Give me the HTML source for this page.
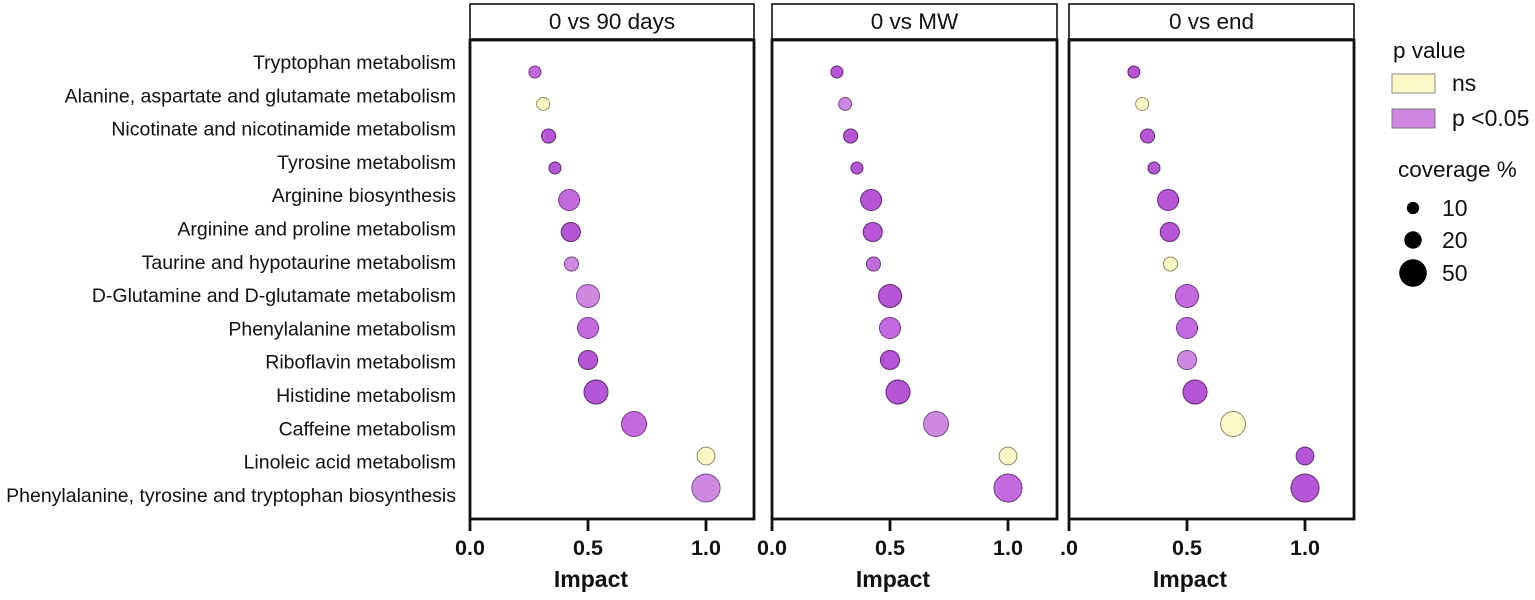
<!DOCTYPE html>
<html><head><meta charset="utf-8"><style>
body{margin:0;background:#fff;}
svg{display:block;font-family:"Liberation Sans",Arial,sans-serif;}
</style></head><body>
<svg id="chart" width="1535" height="600" viewBox="0 0 1535 600"></svg>
<script>
const pathways=["Tryptophan metabolism","Alanine, aspartate and glutamate metabolism","Nicotinate and nicotinamide metabolism","Tyrosine metabolism","Arginine biosynthesis","Arginine and proline metabolism","Taurine and hypotaurine metabolism","D-Glutamine and D-glutamate metabolism","Phenylalanine metabolism","Riboflavin metabolism","Histidine metabolism","Caffeine metabolism","Linoleic acid metabolism","Phenylalanine, tyrosine and tryptophan biosynthesis"];
const impact=[0.275,0.31,0.333,0.36,0.42,0.427,0.43,0.5,0.5,0.5,0.534,0.695,1.0,1.0];
const coverage=[9.5,11,13,9.5,29,24,13,35,29,24,38,41,21,52];
const panelTitles=["0 vs 90 days","0 vs MW","0 vs end"];
// significance class per panel: 0 = ns, 1 = light, 2 = mid, 3 = dark
const sig90=[2,0,3,3,2,3,1,1,2,3,3,2,0,1];
const sigMW=[3,1,3,3,3,3,2,3,2,3,3,1,0,2];
const sigEnd=[3,0,3,3,3,3,0,2,2,1,3,0,3,3];
const xTicks=[0,0.5,1.0];
const xTickLabels=["0.0","0.5","1.0"];
const legendSizes=[10,20,50];

const NS="http://www.w3.org/2000/svg";
const svg=document.getElementById('chart');
function mk(tag,attrs,parent){const e=document.createElementNS(NS,tag);for(const k in attrs)e.setAttribute(k,attrs[k]);(parent||svg).appendChild(e);return e;}
const fills=["#fdf9c6","#cf88e2","#c26ade","#b656d6"];
const strokes=["#8a8a6a","#7a4a88","#6e3a80","#5e2a70"];
const panels=[{x0:470,x1:754,sig:sig90,first:"0.0"},{x0:772,x1:1057,sig:sigMW,first:"0.0"},{x0:1069,x1:1354,sig:sigEnd,first:".0"}];
const ppu=236;
const plotTop=40,plotBottom=519;
function yDot(i){return 72+32*i;}
function yLab(i){return 62+33.3*i;}
function rad(c){return 1.95*Math.sqrt(c);}

pathways.forEach((p,i)=>{
  const t=mk('text',{x:456,y:yLab(i)+7,'text-anchor':'end','font-size':19.5,fill:'#111'});
  t.textContent=p;
  
  
});

panels.forEach((pn,pi)=>{
  const g=mk('g',{});
  
  
  const hdr=mk('rect',{x:pn.x0,y:4,width:pn.x1-pn.x0,height:35,fill:'#fff',stroke:'#111','stroke-width':1.6},g);
  
  
  const ht=mk('text',{x:(pn.x0+pn.x1)/2,y:29,'text-anchor':'middle','font-size':22.5,fill:'#111'},g);
  ht.textContent=panelTitles[pi];
  
  
  const fr=mk('rect',{x:pn.x0,y:plotTop,width:pn.x1-pn.x0,height:plotBottom-plotTop,fill:'none',stroke:'#111','stroke-width':2.8},g);
  
  
  const xs=v=>pn.x0+v*ppu;
  xTicks.forEach((v,k)=>{
    const tk=mk('line',{x1:xs(v),x2:xs(v),y1:plotBottom,y2:531,stroke:'#111','stroke-width':2.8},g);
    
    
    const tl=mk('text',{x:xs(v),y:555,'text-anchor':'middle','font-size':21.5,'font-weight':'bold',fill:'#111'},g);
    tl.textContent=k===0?pn.first:xTickLabels[k];
    
    
  });
  const at=mk('text',{x:xs(0.5)+3,y:587,'text-anchor':'middle','font-size':23,'font-weight':'bold',fill:'#111'},g);
  at.textContent="Impact";
  
  
  impact.forEach((v,i)=>{
    const s=pn.sig[i];
    const c=mk('circle',{cx:xs(v),cy:yDot(i),r:rad(coverage[i]),fill:fills[s],stroke:strokes[s],'stroke-width':1},g);
    
    
  });
});

// legend
const lg=mk('g',{});


let t=mk('text',{x:1393,y:58,'font-size':22.5,fill:'#111'},lg);t.textContent="p value";


let r=mk('rect',{x:1392,y:74,width:43,height:19,fill:fills[0],stroke:'#888','stroke-width':1},lg);


t=mk('text',{x:1452,y:91,'font-size':23,fill:'#111'},lg);t.textContent="ns";


r=mk('rect',{x:1392,y:109,width:43,height:19,fill:fills[1],stroke:'#777','stroke-width':1},lg);


t=mk('text',{x:1452,y:126,'font-size':23,fill:'#111'},lg);t.textContent="p <0.05";


t=mk('text',{x:1398,y:177,'font-size':22.5,fill:'#111'},lg);t.textContent="coverage %";


const ly=[208,240,273];
legendSizes.forEach((s,k)=>{
  const c=mk('circle',{cx:1413,cy:ly[k],r:rad(s),fill:'#000'},lg);
  
  
  const tt=mk('text',{x:1442,y:ly[k]+8,'font-size':23,fill:'#111'},lg);
  tt.textContent=String(s);
  
  
});
</script>
</body></html>
